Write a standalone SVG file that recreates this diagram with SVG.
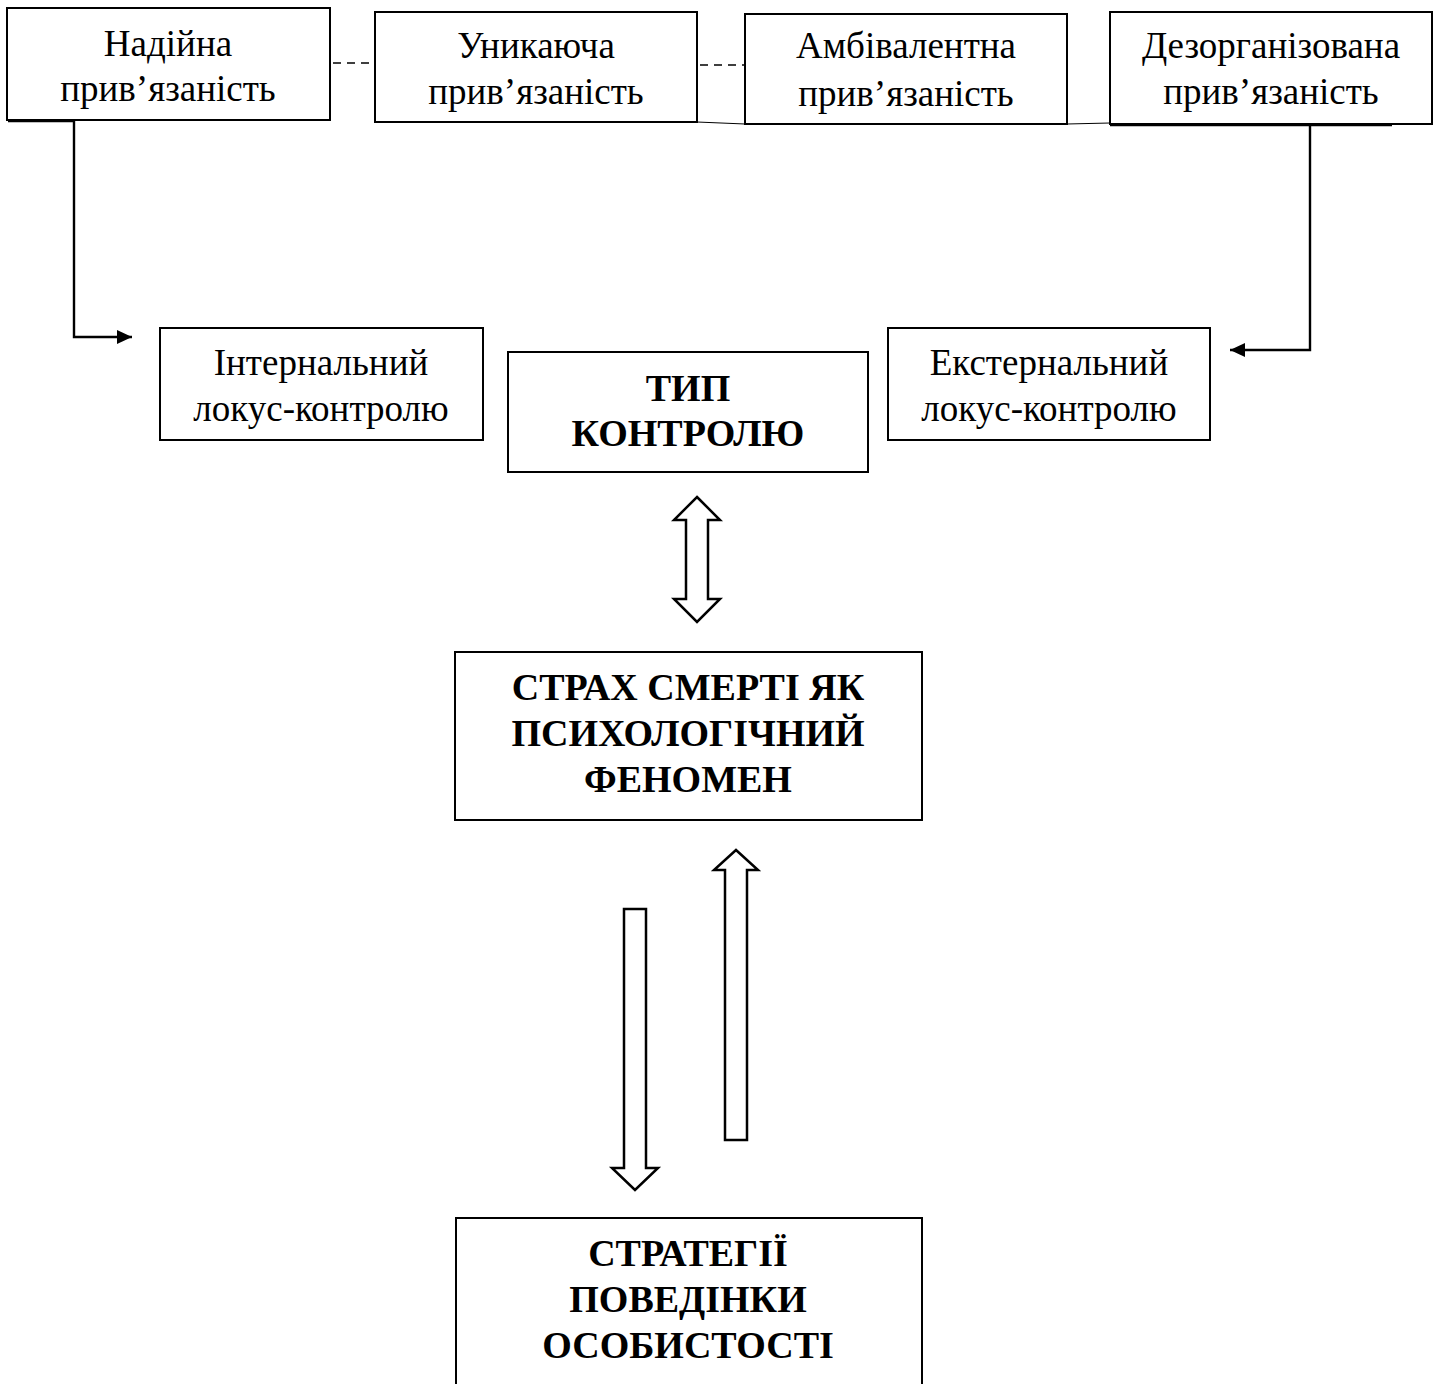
<svg xmlns="http://www.w3.org/2000/svg" width="1440" height="1384" viewBox="0 0 1440 1384">
<style>
.box{fill:#fff;stroke:#000;stroke-width:2}
.t{font-family:"Liberation Serif","Times New Roman",serif;font-size:37px;fill:#000;text-anchor:middle}
.b{font-weight:bold;font-size:38px}
.ln{stroke:#000;stroke-width:2.4;fill:none}
.thin{stroke:#000;stroke-width:1;fill:none}
.dash{stroke:#000;stroke-width:1.5;stroke-dasharray:8,6;fill:none}
.bigarrow{fill:#fff;stroke:#000;stroke-width:2.5;stroke-linejoin:miter}
</style>
<defs>
<marker id="ah" viewBox="0 0 15 14" refX="15" refY="7" markerWidth="15" markerHeight="14" markerUnits="userSpaceOnUse" orient="auto"><path d="M0,0 L15,7 L0,14 Z" fill="#000"/></marker>
</defs>
<rect width="1440" height="1384" fill="#fff"/>
<g id="connectors">
<line class="dash" x1="333" y1="63" x2="375" y2="63"/>
<line class="dash" x1="700" y1="65" x2="745" y2="65"/>
<line class="thin" x1="697" y1="122" x2="745" y2="124"/>
<line class="thin" x1="1067" y1="124" x2="1110" y2="123"/>
<path class="ln" d="M8,121 L74,121 L74,337 L132,337" marker-end="url(#ah)"/>
<path class="ln" d="M1110,125 L1392,125"/>
<path class="ln" d="M1310,125 L1310,350 L1230,350" marker-end="url(#ah)"/>
<path class="bigarrow" d="M697,497 L720,520 L708,520 L708,599 L720,599 L697,622 L674,599 L686,599 L686,520 L674,520 Z"/>
<path class="bigarrow" d="M736,850 L758,870 L747,870 L747,1140 L725,1140 L725,870 L714,870 Z"/>
<path class="bigarrow" d="M624,909 L646,909 L646,1168 L658,1168 L635,1190 L612,1168 L624,1168 Z"/>
</g>
<g id="n1"><rect class="box" x="7" y="8" width="323" height="112"/><text class="t" x="168" y="56">Надійна</text><text class="t" x="168" y="101">прив’язаність</text></g>
<g id="n2"><rect class="box" x="375" y="12" width="322" height="110"/><text class="t" x="536" y="58">Уникаюча</text><text class="t" x="536" y="104">прив’язаність</text></g>
<g id="n3"><rect class="box" x="745" y="14" width="322" height="110"/><text class="t" x="906" y="58">Амбівалентна</text><text class="t" x="906" y="106">прив’язаність</text></g>
<g id="n4"><rect class="box" x="1110" y="12" width="322" height="112"/><text class="t" x="1271" y="58">Дезорганізована</text><text class="t" x="1271" y="104">прив’язаність</text></g>
<g id="n5"><rect class="box" x="160" y="328" width="323" height="112"/><text class="t" x="321" y="375">Інтернальний</text><text class="t" x="321" y="421">локус-контролю</text></g>
<g id="n6"><rect class="box" x="508" y="352" width="360" height="120"/><text class="t b" x="688" y="401">ТИП</text><text class="t b" x="688" y="446">КОНТРОЛЮ</text></g>
<g id="n7"><rect class="box" x="888" y="328" width="322" height="112"/><text class="t" x="1049" y="375">Екстернальний</text><text class="t" x="1049" y="421">локус-контролю</text></g>
<g id="n8"><rect class="box" x="455" y="652" width="467" height="168"/><text class="t b" x="688" y="700">СТРАХ СМЕРТІ ЯК</text><text class="t b" x="688" y="746">ПСИХОЛОГІЧНИЙ</text><text class="t b" x="688" y="792">ФЕНОМЕН</text></g>
<g id="n9"><rect class="box" x="456" y="1218" width="466" height="170"/><text class="t b" x="688" y="1266">СТРАТЕГІЇ</text><text class="t b" x="688" y="1312">ПОВЕДІНКИ</text><text class="t b" x="688" y="1358">ОСОБИСТОСТІ</text></g>
</svg>
